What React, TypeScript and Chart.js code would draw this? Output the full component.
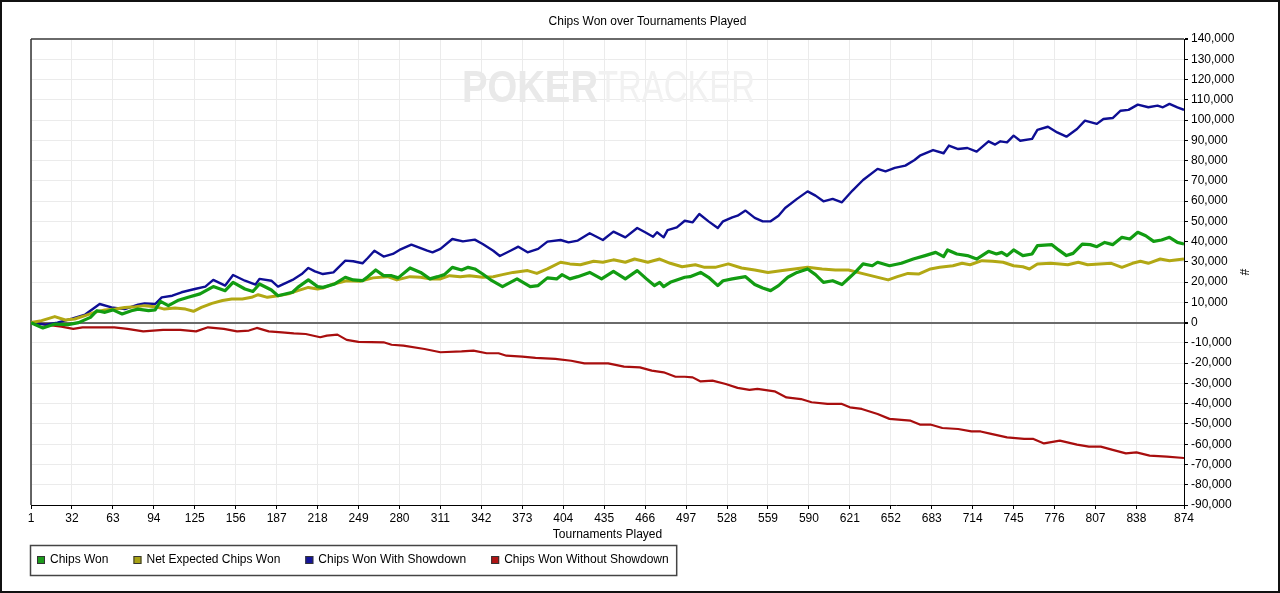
import React, { useEffect, useRef } from 'react';
import { Chart, registerables } from 'chart.js';

Chart.register(...registerables);

// x axis tick labels (tournaments played)
const xTicks = [1, 32, 63, 94, 125, 156, 187, 218, 249, 280, 311, 342, 373, 404, 435, 466, 497, 528, 559, 590, 621, 652, 683, 714, 745, 776, 807, 838, 874];

const seriesNames = ['Chips Won', 'Net Expected Chips Won', 'Chips Won With Showdown', 'Chips Won Without Showdown'];

// Chips Won
const wonT = [
  1, 10, 19, 29, 37, 46, 51, 57, 63, 70,
  77, 82, 90, 95, 99, 105, 112, 120, 129, 139,
  148, 154, 163, 169, 174, 183, 188, 199, 203, 211,
  218, 222, 231, 239, 245, 252, 256, 262, 268, 274,
  279, 288, 296, 303, 309, 314, 320, 327, 332, 337,
  343, 350, 358, 364, 369, 379, 385, 392, 399, 403,
  409, 415, 424, 433, 442, 451, 460, 467, 473, 477,
  480, 485, 496, 500, 508, 514, 521, 525, 532, 542,
  549, 555, 561, 567, 574, 581, 589, 595, 601, 608,
  615, 621, 625, 631, 638, 642, 651, 660, 669, 678,
  686, 692, 695, 702, 710, 717, 726, 732, 736, 740,
  745, 752, 759, 763, 774, 779, 785, 790, 797, 803,
  808, 814, 820, 827, 833, 839, 845, 851, 857, 863,
  869, 874,
];
const wonV = [
  0, -2600, -700, -1000, 0, 2600, 5900, 5100, 6300, 4300,
  5900, 6700, 5900, 6300, 10500, 8400, 10900, 12500, 14200, 17800,
  15800, 19900, 16600, 15400, 19100, 16100, 13300, 15000, 17400, 21100,
  17800, 17400, 19100, 22400, 21100, 20700, 22700, 26000, 23200, 23200,
  22100, 27000, 24800, 21600, 22700, 23700, 27300, 26000, 27300, 26500,
  24000, 20700, 17800, 19900, 21600, 17800, 18300, 22100, 21600, 23700,
  21600, 22700, 24800, 21600, 25300, 21600, 25700, 21600, 18300, 19900,
  17800, 19900, 22400, 22700, 24800, 22400, 18300, 20700, 21600, 22700,
  18800, 17100, 15800, 18300, 22400, 24800, 26500, 23700, 19900, 20700,
  18800, 22400, 24800, 29000, 28100, 29800, 28100, 29300, 31400, 33100,
  34700, 32600, 35900, 33900, 33100, 31400, 35200, 33900, 34700, 33100,
  35900, 33100, 33900, 38000, 38500, 35900, 33100, 34200, 38800, 38500,
  37500, 39600, 38500, 42100, 41300, 44600, 42900, 40100, 40800, 42100,
  39600, 38800,
];

// Net Expected Chips Won
const expT = [
  1, 9, 19, 27, 34, 42, 49, 57, 65, 72,
  80, 87, 95, 102, 110, 118, 124, 130, 138, 146,
  153, 161, 168, 173, 180, 188, 196, 203, 211, 218,
  222, 230, 240, 250, 260, 271, 278, 288, 296, 303,
  311, 318, 326, 333, 343, 351, 358, 366, 377, 384,
  392, 402, 409, 417, 427, 434, 442, 451, 458, 468,
  477, 485, 494, 504, 511, 519, 529, 539, 549, 559,
  570, 579, 589, 600, 610, 620, 630, 640, 650, 657,
  665, 673, 682, 689, 699, 706, 712, 721, 729, 737,
  745, 752, 757, 763, 773, 780, 786, 794, 801, 810,
  819, 827, 835, 841, 847, 856, 863, 869, 874,
];
const expV = [
  0, 1000, 3000, 1300, 1800, 3500, 5100, 6300, 6700, 7500,
  7900, 8400, 7900, 6700, 7200, 6700, 5600, 7500, 9500, 10900,
  11700, 11700, 12500, 13800, 12500, 13300, 14200, 15800, 17400, 16600,
  17100, 19100, 20700, 20400, 22100, 22700, 21100, 22700, 22400, 21600,
  21600, 23200, 22700, 23200, 22400, 22700, 23700, 24800, 25700, 24300,
  26500, 29800, 29000, 28600, 30300, 29800, 31000, 29800, 31400, 29800,
  31400, 29300, 27600, 28600, 27300, 27300, 29000, 27000, 26000, 24800,
  25700, 26500, 27300, 26500, 26000, 26000, 24300, 22700, 21100, 22700,
  24300, 24000, 26500, 27300, 28100, 29300, 28600, 30600, 30300, 29800,
  28100, 27600, 26500, 29000, 29300, 29000, 28600, 29800, 28600, 29000,
  29300, 27300, 29300, 30300, 29300, 31400, 30600, 31000, 31400,
];

// Chips Won With Showdown
const sdT = [
  1, 12, 21, 32, 42, 53, 62, 72, 82, 87,
  95, 100, 108, 115, 125, 133, 139, 148, 154, 163,
  171, 174, 183, 188, 199, 206, 211, 216, 222, 230,
  239, 245, 252, 256, 261, 268, 275, 280, 289, 301,
  305, 311, 320, 328, 337, 343, 351, 356, 364, 370,
  377, 385, 392, 402, 408, 415, 424, 434, 442, 451,
  460, 466, 472, 475, 480, 483, 490, 496, 502, 507,
  514, 521, 525, 532, 536, 542, 549, 555, 561, 567,
  572, 581, 589, 595, 601, 608, 615, 623, 631, 642,
  648, 655, 663, 670, 674, 684, 692, 696, 703, 710,
  717, 726, 731, 735, 740, 745, 750, 759, 763, 771,
  778, 785, 793, 799, 808, 813, 820, 826, 832, 839,
  847, 854, 858, 863, 869, 874,
];
const sdV = [
  0, -1000, 0, 2000, 4000, 9200, 7500, 6700, 8900, 9500,
  9200, 12500, 13300, 15000, 16600, 17800, 21100, 18300, 23500, 20700,
  18800, 21600, 20700, 17800, 21100, 24000, 27000, 25300, 24000, 24800,
  30600, 30300, 29300, 31900, 35500, 32600, 33900, 35900, 38500, 35500,
  34700, 36400, 41300, 40100, 41000, 38800, 35500, 32900, 35500, 37500,
  34700, 36400, 40000, 40800, 39600, 40500, 44100, 40800, 44900, 42100,
  46700, 44600, 42400, 44600, 42100, 45700, 47000, 50300, 49500, 53600,
  50000, 46700, 50000, 52000, 52800, 55300, 51700, 50000, 50000, 52800,
  56600, 61100, 64800, 62700, 59900, 61100, 59400, 65200, 70400, 75900,
  74700, 76400, 77500, 80300, 82400, 85200, 83600, 87400, 85700, 86200,
  84400, 89500, 87900, 89500, 89000, 92300, 89800, 90700, 95100, 96700,
  93900, 91800, 95600, 99700, 98100, 100500, 101000, 104600, 105000, 107600,
  106300, 107100, 106300, 108000, 106300, 105000,
];

// Chips Won Without Showdown
const nsdT = [
  1, 24, 33, 40, 64, 74, 86, 101, 114, 126,
  135, 147, 157, 166, 172, 181, 191, 200, 209, 220,
  225, 233, 240, 249, 268, 274, 283, 299, 311, 327,
  336, 346, 355, 361, 373, 383, 398, 410, 420, 438,
  450, 462, 471, 480, 489, 496, 502, 508, 517, 527,
  536, 545, 551, 564, 573, 584, 592, 604, 615, 621,
  630, 642, 651, 660, 667, 674, 682, 691, 703, 713,
  720, 728, 740, 753, 760, 768, 780, 793, 802, 811,
  820, 830, 838, 848, 861, 874,
];
const nsdV = [
  0, -2000, -3100, -2300, -2300, -3100, -4300, -3600, -3600, -4300,
  -2300, -3100, -4300, -3900, -2600, -4300, -4800, -5300, -5600, -7200,
  -6400, -5900, -8500, -9500, -9700, -10900, -11300, -13000, -14600, -14200,
  -13800, -15100, -15100, -16300, -16800, -17400, -17900, -18800, -20100, -20100,
  -21700, -22100, -23700, -24500, -26700, -26700, -27000, -29000, -28600, -30300,
  -32200, -33200, -32700, -33900, -36900, -37700, -39300, -40100, -40100, -41800,
  -42600, -45100, -47500, -48000, -48400, -50300, -50300, -52000, -52500, -53700,
  -53700, -54900, -56600, -57400, -57400, -59600, -58200, -60200, -61200, -61200,
  -62800, -64500, -64000, -65600, -66100, -66800,
];

const FONT = 'Arial, "Liberation Sans", sans-serif';
const lineColors = ['#129c12', '#b2a814', '#0e0e94', '#a80e0e'];
const markColors = ['#1c9a1c', '#a8a214', '#14149a', '#b01414'];
const lineWidths = [3.2, 3, 2.4, 2.2];

const toPoints = (xs: number[], ys: number[]) => xs.map((x, i) => ({ x, y: ys[i] }));

const framePlugin = {
  id: 'frame',
  beforeDraw(chart: Chart) {
    const { ctx, width, height } = chart;
    ctx.save();
    ctx.fillStyle = '#fff';
    ctx.fillRect(0, 0, width, height);
    ctx.restore();
  },
  afterDraw(chart: Chart) {
    const { ctx, width, height } = chart;
    ctx.save();
    ctx.strokeStyle = '#111';
    ctx.lineWidth = 2;
    ctx.strokeRect(1, 1, width - 2, height - 2);
    ctx.restore();
  },
};

// faint logo behind the lines, plus the dark left edge of the plot
const watermarkPlugin = {
  id: 'watermark',
  beforeDatasetsDraw(chart: Chart) {
    const { ctx, chartArea } = chart;
    ctx.save();
    ctx.textBaseline = 'alphabetic';
    ctx.font = `bold 44px ${FONT}`;
    const w1 = ctx.measureText('POKER').width;
    ctx.fillStyle = '#e9e9e9';
    ctx.translate(462, 102);
    ctx.scale(136 / w1, 1);
    ctx.fillText('POKER', 0, 0);
    ctx.restore();
    ctx.save();
    ctx.font = `44px ${FONT}`;
    const w2 = ctx.measureText('TRACKER').width;
    ctx.fillStyle = '#f1f1f1';
    ctx.translate(598, 102);
    ctx.scale(157 / w2, 1);
    ctx.fillText('TRACKER', 0, 0);
    ctx.restore();

    ctx.save();
    ctx.strokeStyle = '#333';
    ctx.lineWidth = 1.5;
    ctx.beginPath();
    ctx.moveTo(chartArea.left, chartArea.top);
    ctx.lineTo(chartArea.left, chartArea.bottom);
    ctx.stroke();
    ctx.restore();
  },
};

const legendBoxPlugin = {
  id: 'legendBox',
  afterDraw(chart: Chart) {
    const { ctx, height } = chart;
    const top = height - 48;
    const cy = top + 15;
    ctx.save();
    ctx.font = `12px ${FONT}`;
    ctx.textBaseline = 'middle';
    let x = 37;
    chart.data.datasets.forEach((ds, i) => {
      ctx.fillStyle = markColors[i];
      ctx.fillRect(x, cy - 4, 8, 8);
      ctx.strokeStyle = '#333';
      ctx.lineWidth = 1;
      ctx.strokeRect(x + 0.5, cy - 3.5, 7, 7);
      ctx.fillStyle = '#000';
      const label = String(ds.label);
      ctx.fillText(label, x + 13, cy);
      x += 13 + ctx.measureText(label).width + 25;
    });
    const right = x - 25 + 8;
    ctx.strokeStyle = '#444';
    ctx.lineWidth = 1.5;
    ctx.strokeRect(30.5, top + 0.5, right - 30.5, 30);
    ctx.restore();
  },
};

const ChipsChart: React.FC = () => {
  const chartRef = useRef<HTMLCanvasElement | null>(null);
  const chartInstance = useRef<Chart | null>(null);

  useEffect(() => {
    if (!chartRef.current) return;
    if (chartInstance.current) chartInstance.current.destroy();

    const series = [toPoints(wonT, wonV), toPoints(expT, expV), toPoints(sdT, sdV), toPoints(nsdT, nsdV)];

    chartInstance.current = new Chart(chartRef.current, {
      type: 'line',
      data: {
        datasets: series.map((data, i) => ({
          label: seriesNames[i],
          data,
          borderColor: lineColors[i],
          backgroundColor: lineColors[i],
          borderWidth: lineWidths[i],
          pointRadius: 0,
          tension: 0,
          fill: false,
          borderJoinStyle: 'round' as const,
        })),
      },
      options: {
        responsive: false,
        animation: false,
        layout: { padding: { left: 31, right: 16, top: 0, bottom: 50 } },
        plugins: {
          legend: { display: false },
          tooltip: { enabled: false },
          title: {
            display: true,
            text: 'Chips Won over Tournaments Played',
            color: '#000',
            font: { family: FONT, size: 12, weight: 'normal' },
            padding: { top: 14, bottom: 10.6 },
          },
        },
        scales: {
          x: {
            type: 'linear',
            min: 1,
            max: 874,
            afterBuildTicks: (scale: any) => {
              scale.ticks = xTicks.map((value) => ({ value }));
            },
            afterFit: (scale: any) => {
              scale.height = 38;
            },
            ticks: {
              autoSkip: false,
              maxRotation: 0,
              minRotation: 0,
              color: '#000',
              padding: 2,
              font: { family: FONT, size: 12 },
            },
            grid: {
              color: '#ebebeb',
              lineWidth: 1,
              tickColor: '#000',
              tickLength: 4,
            },
            border: { display: true, color: '#000', width: 1 },
            title: {
              display: true,
              text: 'Tournaments Played',
              color: '#000',
              font: { family: FONT, size: 12 },
              padding: { top: 0, bottom: 1 },
            },
          },
          y: {
            position: 'right',
            min: -90000,
            max: 140000,
            afterFit: (scale: any) => {
              scale.width = 80;
            },
            ticks: {
              stepSize: 10000,
              color: '#000',
              padding: 3,
              font: { family: FONT, size: 12 },
              callback: (v: any) => Number(v).toLocaleString('en-US'),
            },
            grid: {
              color: (c: any) => {
                const v = c.tick && c.tick.value;
                if (v === 0 || v === 140000) return '#6a6a6a';
                return '#ebebeb';
              },
              lineWidth: (c: any) => {
                const v = c.tick && c.tick.value;
                return v === 0 || v === 140000 ? 2 : 1;
              },
              tickColor: '#000',
              tickLength: 4,
            },
            border: { display: true, color: '#000', width: 1 },
            title: {
              display: true,
              text: '#',
              color: '#000',
              font: { family: FONT, size: 12 },
              padding: { top: 13, bottom: 0 },
            },
          },
        },
      },
      plugins: [framePlugin, watermarkPlugin, legendBoxPlugin],
    });

    return () => {
      if (chartInstance.current) {
        chartInstance.current.destroy();
        chartInstance.current = null;
      }
    };
  }, []);

  return (
    <div style={{ position: 'absolute', left: 0, top: 0, width: 1280, height: 593 }}>
      <canvas ref={chartRef} width={1280} height={593} style={{ display: 'block' }}></canvas>
    </div>
  );
};

export default function App() {
  return <ChipsChart />;
}
